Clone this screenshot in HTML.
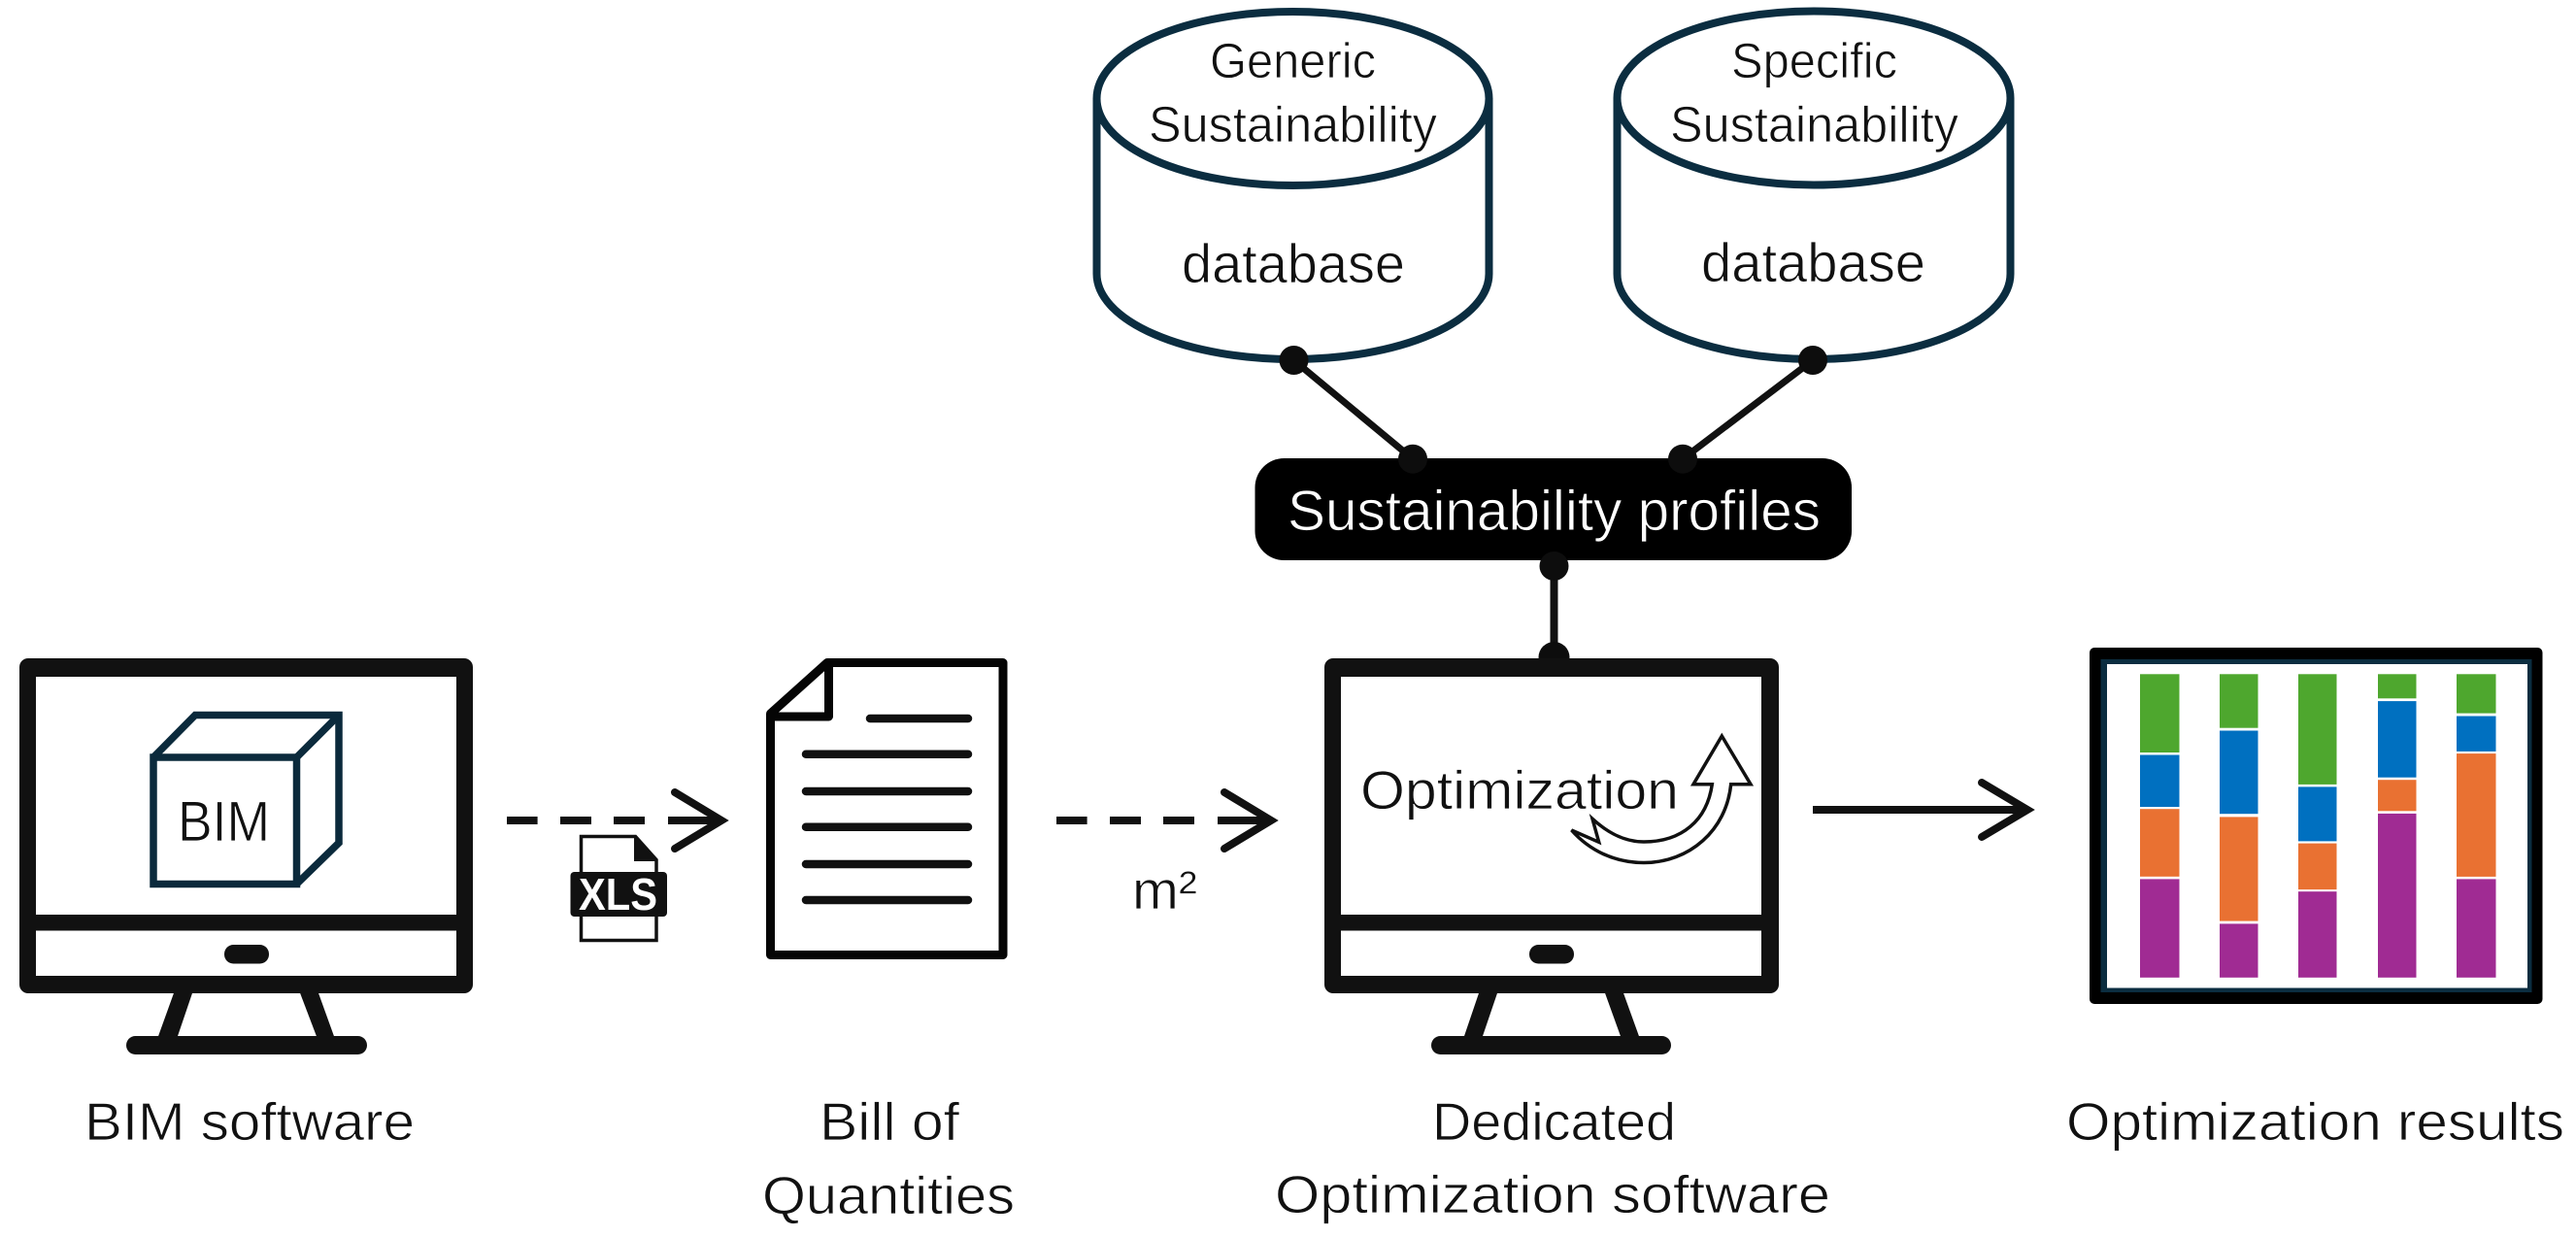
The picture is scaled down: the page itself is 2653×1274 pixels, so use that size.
<!DOCTYPE html>
<html><head><meta charset="utf-8"><style>
html,body{margin:0;padding:0;background:#fff;width:2653px;height:1274px;overflow:hidden}
svg{display:block}
text{font-family:"Liberation Sans",sans-serif;fill:#111;stroke:#fff;stroke-width:.8;text-anchor:start}
text.w{fill:#fff;stroke:#000}
text.x{font-weight:bold;fill:#fff;stroke:none}
</style></head><body>
<svg xmlns="http://www.w3.org/2000/svg" width="2653" height="1274" viewBox="0 0 2653 1274">
<rect width="2653" height="1274" fill="#fff"/>

<!-- Monitor 1 -->
<g fill="#111">
<rect x="20" y="678" width="467" height="345" rx="9"/>
<polygon points="180,1020 199,1020 182,1070 162,1070"/>
<polygon points="308,1020 327,1020 345,1070 327,1070"/>
<rect x="130" y="1067" width="248" height="19" rx="9.5"/>
</g>
<rect x="37" y="697" width="433" height="245" fill="#fff"/>
<rect x="37" y="958.5" width="433" height="46.5" fill="#fff"/>
<rect x="231" y="973" width="46" height="19.5" rx="9.5" fill="#111"/>

<!-- Cube -->
<g fill="none" stroke="#0b2a3c" stroke-width="7.5" stroke-linejoin="miter">
<rect x="158" y="780" width="147.5" height="130.5"/>
<path d="M158,780 L201,736.5 H349 V868 L305.5,910.5"/>
<path d="M305.5,780 L349,736.5"/>
</g>
<text x="183" y="866" font-size="58" textLength="95" lengthAdjust="spacingAndGlyphs">BIM</text>
<text x="87" y="1174" font-size="55" textLength="340" lengthAdjust="spacingAndGlyphs">BIM software</text>

<!-- Arrow 1 -->
<g fill="none" stroke="#111" stroke-width="8">
<path d="M522,845 H553.6 M577,845 H609 M632,845 H664 M688,845 H738"/>
<path d="M695,816 L743,845 L695,874" stroke-linecap="round"/>
</g>

<!-- XLS icon -->
<path d="M598.5,861.5 H654.5 L676,885.5 V968.5 H598.5 Z" fill="#fff" stroke="#111" stroke-width="3.5"/>
<path d="M653,861 V887 H677 Z" fill="#111"/>
<rect x="587.5" y="898" width="99.5" height="46" rx="4" fill="#111"/>
<text class="x" x="596" y="937" font-size="46" textLength="81" lengthAdjust="spacingAndGlyphs">XLS</text>

<!-- Document -->
<path d="M852,682.5 H1033 V983.5 H793.5 V735 Z" fill="#fff" stroke="#050505" stroke-width="9" stroke-linejoin="round"/>
<path d="M853.5,682.5 V738 H793.5" fill="none" stroke="#050505" stroke-width="9" stroke-linejoin="round"/>
<g stroke="#111" stroke-width="8.5" stroke-linecap="round">
<path d="M896,740 H997"/>
<path d="M830,776.7 H997 M830,815 H997 M830,851.7 H997 M830,890 H997 M830,927 H997"/>
</g>
<text x="844" y="1174" font-size="55" textLength="144" lengthAdjust="spacingAndGlyphs">Bill of</text>
<text x="785" y="1250" font-size="55" textLength="260" lengthAdjust="spacingAndGlyphs">Quantities</text>

<!-- Arrow 2 -->
<g fill="none" stroke="#111" stroke-width="8">
<path d="M1088,845 H1119.6 M1143,845 H1175 M1198,845 H1230 M1254,845 H1304"/>
<path d="M1261,816 L1309,845 L1261,874" stroke-linecap="round"/>
</g>
<text x="1166" y="936" font-size="56" textLength="67" lengthAdjust="spacingAndGlyphs">m²</text>

<!-- Cylinders -->
<g fill="#fff" stroke="#0b2d40" stroke-width="8">
<path d="M1129.5,101 V282 A202,88 0 0 0 1533.5,282 V101"/>
<ellipse cx="1331.5" cy="101.5" rx="202" ry="89.5"/>
<path d="M1665.5,101 V282 A202.5,88 0 0 0 2070.5,282 V101"/>
<ellipse cx="1868" cy="101" rx="202.5" ry="89.5"/>
</g>
<text x="1246" y="80" font-size="51" textLength="171" lengthAdjust="spacingAndGlyphs">Generic</text>
<text x="1183" y="146" font-size="52" textLength="297" lengthAdjust="spacingAndGlyphs">Sustainability</text>
<text x="1217" y="291" font-size="57" textLength="230" lengthAdjust="spacingAndGlyphs">database</text>
<text x="1783" y="80" font-size="51" textLength="171" lengthAdjust="spacingAndGlyphs">Specific</text>
<text x="1720" y="146" font-size="52" textLength="297" lengthAdjust="spacingAndGlyphs">Sustainability</text>
<text x="1752" y="290" font-size="57" textLength="231" lengthAdjust="spacingAndGlyphs">database</text>

<!-- Connectors -->
<g stroke="#111" stroke-width="7">
<line x1="1332.5" y1="371" x2="1455" y2="472.7"/>
<line x1="1867" y1="371" x2="1733" y2="472.7"/>
<line x1="1600.5" y1="583" x2="1600.5" y2="676" stroke-width="8"/>
</g>

<!-- Pill -->
<rect x="1292.5" y="472" width="614.5" height="105" rx="30" fill="#000"/>
<g fill="#0d0d0d">
<circle cx="1332.5" cy="371" r="15"/>
<circle cx="1867" cy="371" r="15"/>
<circle cx="1455" cy="472.7" r="15"/>
<circle cx="1733" cy="472.7" r="15"/>
<circle cx="1600.5" cy="583" r="15"/>
<circle cx="1600.5" cy="677" r="16"/>
</g>
<text class="w" x="1326" y="546" font-size="58" textLength="549" lengthAdjust="spacingAndGlyphs">Sustainability profiles</text>

<!-- Monitor 2 -->
<g fill="#111" transform="translate(1344,0)">
<rect x="20" y="678" width="468" height="345" rx="9"/>
<polygon points="180,1020 199,1020 182,1070 163,1070"/>
<polygon points="308,1020 327,1020 345,1070 326,1070"/>
<rect x="130" y="1067" width="247" height="19" rx="9.5"/>
</g>
<rect x="1381" y="697" width="433" height="245" fill="#fff"/>
<rect x="1381" y="958.5" width="433" height="46.5" fill="#fff"/>
<rect x="1575" y="973" width="46" height="19.5" rx="9.5" fill="#111"/>

<text x="1401" y="833" font-size="56" textLength="328" lengthAdjust="spacingAndGlyphs">Optimization</text>
<path d="M1773.3,758 L1803,807.7 L1782.7,807.7 C1778,855 1740,888.5 1693,888.5 C1663,888.5 1637,876 1618.5,855 L1646.7,867.3 L1640,843.3 C1655,857 1672,867 1693,867 C1732,867 1758,845 1763.3,807.7 L1744,807.7 Z" fill="#fff" stroke="#111" stroke-width="3.5"/>

<text x="1475" y="1174" font-size="55" textLength="251" lengthAdjust="spacingAndGlyphs">Dedicated</text>
<text x="1313" y="1249" font-size="55" textLength="572" lengthAdjust="spacingAndGlyphs">Optimization software</text>

<!-- Arrow 3 -->
<g fill="none" stroke="#111" stroke-width="8">
<path d="M1867,834 H2085"/>
<path d="M2041,806 L2088,834 L2041,862" stroke-linecap="round"/>
</g>

<!-- Results frame -->
<rect x="2152" y="667" width="466.5" height="367" rx="5" fill="#000"/>
<rect x="2163.5" y="679" width="444" height="343" fill="#0b2d40"/>
<rect x="2170" y="684" width="433" height="333.5" fill="#fff"/>

<g>
<rect x="2204" y="694.3" width="40.5" height="80.7" fill="#4ea72e"/>
<rect x="2204" y="777.5" width="40.5" height="53.5" fill="#0070c0"/>
<rect x="2204" y="833.2" width="40.5" height="69.6" fill="#e97132"/>
<rect x="2204" y="905.4" width="40.5" height="101.4" fill="#a02b93"/>

<rect x="2286" y="694.3" width="39.5" height="55.4" fill="#4ea72e"/>
<rect x="2286" y="752.5" width="39.5" height="85.7" fill="#0070c0"/>
<rect x="2286" y="841.4" width="39.5" height="107.2" fill="#e97132"/>
<rect x="2286" y="951.4" width="39.5" height="55.4" fill="#a02b93"/>

<rect x="2367" y="694.3" width="39.5" height="113.6" fill="#4ea72e"/>
<rect x="2367" y="810.4" width="39.5" height="56" fill="#0070c0"/>
<rect x="2367" y="868.6" width="39.5" height="47.5" fill="#e97132"/>
<rect x="2367" y="918.2" width="39.5" height="88.6" fill="#a02b93"/>

<rect x="2449" y="694.3" width="39.5" height="25" fill="#4ea72e"/>
<rect x="2449" y="722.1" width="39.5" height="78.6" fill="#0070c0"/>
<rect x="2449" y="803.2" width="39.5" height="32.1" fill="#e97132"/>
<rect x="2449" y="837.9" width="39.5" height="168.9" fill="#a02b93"/>

<rect x="2530" y="694.3" width="40.5" height="40.3" fill="#4ea72e"/>
<rect x="2530" y="737.5" width="40.5" height="36.4" fill="#0070c0"/>
<rect x="2530" y="776.1" width="40.5" height="126.8" fill="#e97132"/>
<rect x="2530" y="905.4" width="40.5" height="101.4" fill="#a02b93"/>
</g>

<text x="2128" y="1174" font-size="55" textLength="513" lengthAdjust="spacingAndGlyphs">Optimization results</text>
</svg>
</body></html>
